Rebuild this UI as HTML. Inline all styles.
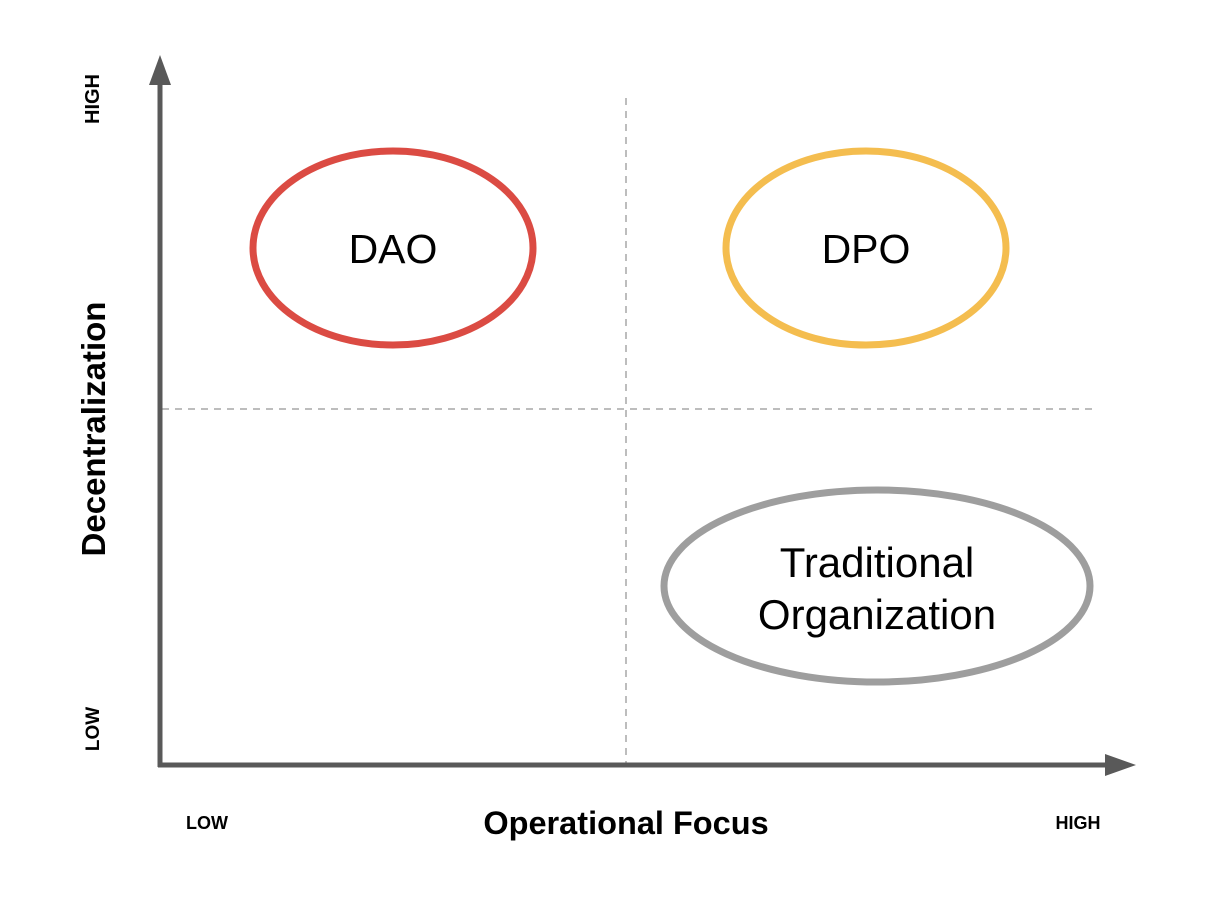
<!DOCTYPE html>
<html><head><style>html,body{margin:0;padding:0;background:#fff;}</style></head>
<body>
<svg width="1222" height="900" xmlns="http://www.w3.org/2000/svg" style="display:block">
<rect width="1222" height="900" fill="#fff"/>
<g stroke="#bdbdbd" stroke-width="2" stroke-dasharray="7,6" fill="none">
<line x1="626" y1="98" x2="626" y2="765"/>
<line x1="162" y1="409" x2="1092" y2="409"/>
</g>
<g stroke="#595959" stroke-width="5">
<line x1="160" y1="82" x2="160" y2="767"/>
<line x1="158" y1="765" x2="1108" y2="765"/>
</g>
<polygon points="160,55 149,85 171,85" fill="#595959"/>
<polygon points="1136,765 1105,754 1105,776" fill="#595959"/>
<ellipse cx="393" cy="248" rx="140" ry="97" fill="none" stroke="#db4b43" stroke-width="7"/>
<ellipse cx="866" cy="248" rx="140" ry="97" fill="none" stroke="#f4bd4f" stroke-width="7"/>
<ellipse cx="877" cy="586" rx="213" ry="96" fill="none" stroke="#9e9e9e" stroke-width="7"/>
<g font-family="Liberation Sans, sans-serif" fill="#000" text-anchor="middle">
<text x="393" y="263" font-size="41">DAO</text>
<text x="866" y="263" font-size="41">DPO</text>
<text x="877" y="577" font-size="42">Traditional</text>
<text x="877" y="629" font-size="42">Organization</text>
<text x="626" y="834" font-size="32.5" font-weight="bold">Operational Focus</text>
<text x="207" y="829" font-size="18" font-weight="bold">LOW</text>
<text x="1078" y="829" font-size="18" font-weight="bold">HIGH</text>
<text transform="translate(105,429) rotate(-90)" font-size="33" font-weight="bold">Decentralization</text>
<text transform="translate(99,99) rotate(-90)" font-size="20" font-weight="bold">HIGH</text>
<text transform="translate(99,729) rotate(-90)" font-size="19" font-weight="bold">LOW</text>
</g>
</svg>
</body></html>
